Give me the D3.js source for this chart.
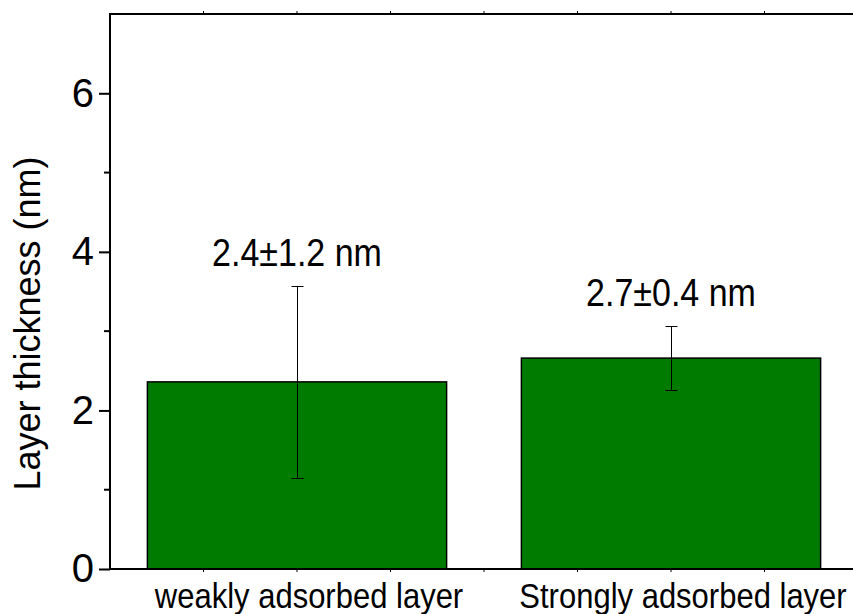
<!DOCTYPE html>
<html>
<head>
<meta charset="utf-8">
<script src="https://cdn.jsdelivr.net/npm/d3@7/dist/d3.min.js"></script>
<style>
  html, body { margin: 0; padding: 0; background: #fff; }
  svg { display: block; }
  text { font-family: "Liberation Sans", Arial, sans-serif; fill: #000; }
</style>
</head>
<body>
<svg id="chart" width="853" height="614"></svg>
<script>
// Layer thickness per adsorbed layer type (nm), mean and standard deviation
const categories = ["weakly adsorbed layer", "Strongly adsorbed layer"];
const positions = [1, 2];
const thickness = [2.36, 2.66];
const thicknessSd = [1.21, 0.40];
const yTicks = [0, 2, 4, 6];
const yMinorTicks = [1, 3, 5];

const svg = d3.select("#chart");
const W = 853, H = 614;
const plot = { left: 110, right: 858, top: 14, bottom: 569 };

const x = d3.scaleLinear().domain([0.5, 2.5]).range([plot.left, plot.right]);
const y = d3.scaleLinear().domain([0, 7]).range([plot.bottom, plot.top]);
const barHalf = 0.4;

const data = categories.map((c, i) => ({
  name: c, pos: positions[i], value: thickness[i], sd: thicknessSd[i]
}));

// bars
svg.append("g").selectAll("rect").data(data).join("rect")
  .attr("x", d => x(d.pos - barHalf))
  .attr("width", d => x(d.pos + barHalf) - x(d.pos - barHalf))
  .attr("y", d => y(d.value))
  .attr("height", d => y(0) - y(d.value))
  .attr("fill", "#007b00")
  .attr("stroke", "#000")
  .attr("stroke-width", 1.5);

// error bars
const err = svg.append("g").attr("stroke", "#000").attr("stroke-width", 1);
data.forEach(d => {
  const cx = Math.round(x(d.pos)) + 0.5;
  err.append("line").attr("x1", cx).attr("x2", cx)
    .attr("y1", y(d.value - d.sd)).attr("y2", y(d.value + d.sd));
  [d.value - d.sd, d.value + d.sd].forEach(v => {
    err.append("line").attr("x1", cx - 6).attr("x2", cx + 6)
      .attr("y1", Math.round(y(v)) + 0.5).attr("y2", Math.round(y(v)) + 0.5);
  });
});

// value labels above the error bars
const f1 = d3.format(".1f");
svg.append("g").selectAll("text").data(data).join("text")
  .attr("transform", d => `translate(${x(d.pos)},${y(d.value + d.sd) - 20}) scale(1,1.12)`)
  .attr("text-anchor", "middle")
  .attr("font-size", 34)
  .text(d => `${f1(d.value)}±${f1(d.sd)} nm`);

// top and bottom small ticks along x
const xMinor = d3.range(0.75, 2.5, 0.25);
const tickG = svg.append("g").attr("stroke", "#000").attr("stroke-width", 1);
xMinor.forEach(t => {
  tickG.append("line").attr("x1", x(t)).attr("x2", x(t))
    .attr("y1", plot.bottom).attr("y2", plot.bottom + 3);
  tickG.append("line").attr("x1", x(t)).attr("x2", x(t))
    .attr("y1", plot.top).attr("y2", plot.top - 3);
});

// frame lines: left axis, bottom axis, top border
const frame = svg.append("g").attr("stroke", "#000").attr("stroke-width", 2);
frame.append("line").attr("x1", plot.left).attr("x2", plot.left)
  .attr("y1", plot.top - 1).attr("y2", plot.bottom + 1);
frame.append("line").attr("x1", plot.left - 1).attr("x2", W)
  .attr("y1", plot.top).attr("y2", plot.top);
frame.append("line").attr("x1", plot.left - 1).attr("x2", W)
  .attr("y1", plot.bottom).attr("y2", plot.bottom);

// y axis
const yAxis = d3.axisLeft(y).tickValues(yTicks).tickFormat(d3.format("d"))
  .tickSize(11).tickPadding(5);
const yg = svg.append("g").attr("transform", `translate(${plot.left},0)`).call(yAxis);
yg.select(".domain").remove();
yg.selectAll(".tick line").attr("stroke", "#000").attr("stroke-width", 2);
yg.selectAll(".tick text")
  .attr("font-family", "Liberation Sans, Arial, sans-serif")
  .attr("font-size", 40).attr("fill", "#000");
svg.append("g").selectAll("line").data(yMinorTicks).join("line")
  .attr("x1", plot.left - 6).attr("x2", plot.left)
  .attr("y1", d => y(d)).attr("y2", d => y(d))
  .attr("stroke", "#000").attr("stroke-width", 2);

// category labels
svg.append("g").selectAll("text").data(data).join("text")
  .attr("transform", d => `translate(${x(d.pos) + 12},${plot.bottom + 39}) scale(1,1.12)`)
  .attr("text-anchor", "middle")
  .attr("font-size", 31)
  .text(d => d.name);

// y axis title
svg.append("text")
  .attr("transform", `translate(40,${(plot.top + plot.bottom) / 2 + 32}) rotate(-90)`)
  .attr("text-anchor", "middle")
  .attr("font-size", 36)
  .text("Layer thickness (nm)");
</script>
</body>
</html>
